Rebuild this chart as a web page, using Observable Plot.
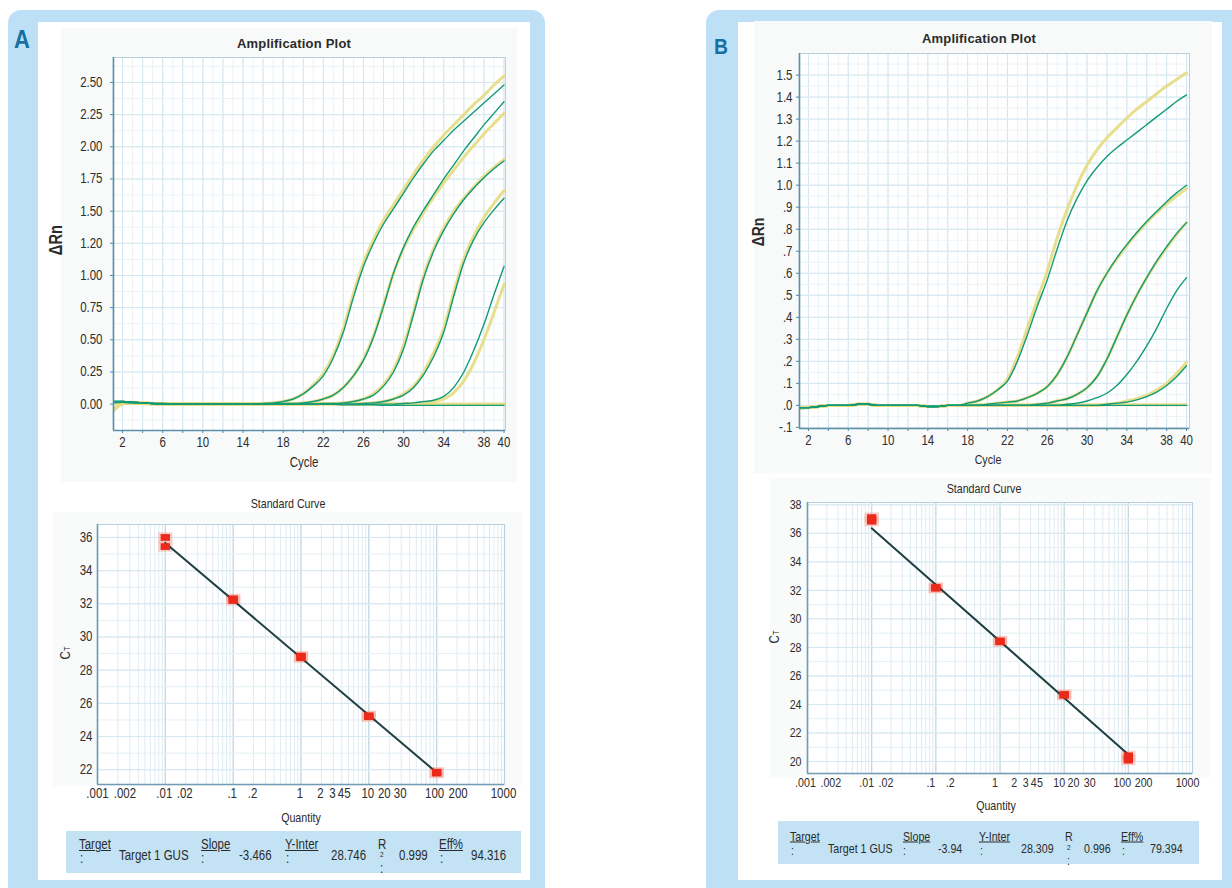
<!DOCTYPE html>
<html><head><meta charset="utf-8">
<script src="https://cdn.jsdelivr.net/npm/d3@7"></script>
<script src="https://cdn.jsdelivr.net/npm/@observablehq/plot@0.6"></script>
<style>
html,body{margin:0;padding:0;background:#fff;}
body{width:1232px;height:888px;position:relative;overflow:hidden;font-family:"Liberation Sans",Arial,sans-serif;color:#2b2b2b;}
.abs{position:absolute;white-space:nowrap;}
.layer{position:absolute;left:0;top:0;}
.layer svg{overflow:visible;}
</style></head><body>
<script>
// ---------------- DATA ----------------
const cycles = [1,2,3,4,5,6,7,8,9,10,11,12,13,14,15,16,17,18,19,20,21,22,23,24,25,26,27,28,29,30,31,32,33,34,35,36,37,38,39,40];

// Panel A amplification curves (ΔRn per cycle)
const a1Green  = [0.02,0.02,0.015,0.01,0.005,0.005,0,0,0,0, 0,0,0,0,0,0.005,0.01,0.02,0.04,0.08, 0.14,0.22,0.36,0.56,0.83,1.07,1.25,1.40,1.52,1.64, 1.76,1.87,1.97,2.05,2.13,2.20,2.27,2.34,2.41,2.48];
const a1Yellow = [-0.06,0,0.01,0.01,0.005,0.005,0,0,0,0, 0,0,0,0,0,0.005,0.01,0.02,0.04,0.08, 0.15,0.24,0.38,0.59,0.86,1.10,1.28,1.43,1.55,1.67, 1.79,1.90,2.00,2.09,2.17,2.25,2.33,2.40,2.48,2.55];
const a2Green  = [0.015,0.02,0.015,0.01,0.005,0.005,0,0,0,0, 0,0,0,0,0,0,0,0.005,0.005,0.01, 0.02,0.04,0.07,0.13,0.22,0.34,0.52,0.76,1.02,1.22, 1.38,1.51,1.63,1.75,1.86,1.97,2.07,2.17,2.26,2.35];
const a2Yellow = [0.01,0.015,0.015,0.01,0.005,0.005,0,0,0,0, 0,0,0,0,0,0,0,0.005,0.005,0.01, 0.02,0.04,0.07,0.13,0.22,0.35,0.53,0.77,1.02,1.21, 1.36,1.49,1.61,1.72,1.82,1.92,2.01,2.10,2.18,2.26];
const a3Green  = [0.01,0.015,0.01,0.01,0.005,0,0,0,0,0, 0,0,0,0,0,0,0,0,0,0, 0,0.005,0.005,0.01,0.02,0.04,0.07,0.14,0.25,0.43, 0.70,0.98,1.19,1.35,1.48,1.59,1.68,1.76,1.83,1.89];
const a3Yellow = [0.01,0.01,0.01,0.005,0.005,0,0,0,0,0, 0,0,0,0,0,0,0,0,0,0, 0,0.005,0.005,0.01,0.02,0.04,0.08,0.15,0.27,0.46, 0.72,1.00,1.21,1.37,1.50,1.60,1.69,1.77,1.84,1.90];
const a4Green  = [0.015,0.015,0.01,0.01,0.005,0,0,0,0,0, 0,0,0,0,0,0,0,0,0,0, 0,0,0,0,0,0.005,0.01,0.02,0.04,0.07, 0.13,0.23,0.37,0.56,0.84,1.10,1.28,1.41,1.51,1.60];
const a4Yellow = [0.01,0.01,0.01,0.005,0.005,0,0,0,0,0, 0,0,0,0,0,0,0,0,0,0, 0,0,0,0,0,0.005,0.01,0.02,0.04,0.08, 0.14,0.25,0.40,0.59,0.87,1.13,1.31,1.45,1.56,1.66];
const a5Green  = [0.02,0.02,0.015,0.01,0.005,0,0,0,0,0, 0,0,0,0,0,0,0,0,0,0, 0,0,0,0,0,0,0,0,0,0.005, 0.01,0.02,0.03,0.06,0.13,0.25,0.42,0.62,0.85,1.07];
const a5Yellow = [0.01,0.01,0.01,0.005,0,0,0,0,0,0, 0,0,0,0,0,0,0,0,0,0, 0,0,0,0,0,0,0,0,0,0, 0.005,0.01,0.02,0.04,0.09,0.18,0.32,0.50,0.71,0.93];
const aNtcGreen  = [0.02,0.02,0.015,0.01,0.005,0,0,0,0,0, 0,0,0,0,0,0,0,0,0,0, 0,0,0,-0.005,-0.005,-0.005,-0.005,-0.01,-0.01,-0.01, -0.01,-0.01,-0.01,-0.01,-0.01,-0.01,-0.01,-0.01,-0.01,-0.01];
const aNtcYellow = [-0.04,0.005,0.01,0.005,0,0,0,0,0,0, 0,0,0,0,0,0,0,0,0,0, 0,0,0,0,0,0,0,0,0,0, 0,0,0,0,0,0,0,0,0,0];

// Panel B amplification curves
const b1Green  = [-0.01,-0.01,-0.005,0,0,0,0.005,0.005,0,0, 0,0,0,-0.005,-0.005,0,0,0.01,0.02,0.04, 0.07,0.11,0.20,0.32,0.45,0.57,0.71,0.84,0.94,1.02, 1.08,1.13,1.17,1.205,1.24,1.275,1.31,1.345,1.38,1.41];
const b1Yellow = [-0.015,-0.01,-0.005,0,0,0,0.005,0.005,0,0, 0,0,0,-0.005,-0.005,0,0,0.01,0.02,0.04, 0.07,0.12,0.22,0.35,0.48,0.61,0.76,0.89,1.00,1.09, 1.16,1.215,1.26,1.305,1.345,1.38,1.415,1.45,1.48,1.51];
const b2Green  = [-0.01,-0.01,-0.005,0,0,0,0.005,0.005,0,0, 0,0,0,-0.005,-0.005,0,0,0,0,0.005, 0.01,0.015,0.02,0.035,0.055,0.085,0.14,0.22,0.32,0.42, 0.52,0.60,0.67,0.73,0.785,0.835,0.88,0.925,0.965,1.00];
const b2Yellow = [-0.01,-0.01,-0.005,0,0,0,0.005,0.005,0,0, 0,0,0,-0.005,-0.005,0,0,0,0,0.005, 0.01,0.015,0.02,0.035,0.055,0.085,0.14,0.22,0.32,0.42, 0.52,0.60,0.665,0.725,0.78,0.83,0.875,0.915,0.95,0.985];
const b3Green  = [-0.01,-0.01,-0.005,0,0,0,0.005,0.005,0,0, 0,0,0,-0.005,-0.005,0,0,0,0,0, 0,0,0,0,0.005,0.01,0.02,0.03,0.05,0.08, 0.13,0.21,0.31,0.41,0.50,0.58,0.655,0.72,0.78,0.83];
const b3Yellow = [-0.01,-0.01,-0.005,0,0,0,0.005,0.005,0,0, 0,0,0,-0.005,-0.005,0,0,0,0,0, 0,0,0,0,0.005,0.01,0.02,0.03,0.05,0.08, 0.13,0.21,0.31,0.41,0.50,0.58,0.65,0.715,0.775,0.83];
const b4Green  = [-0.01,-0.01,-0.005,0,0,0,0.005,0.005,0,0, 0,0,0,-0.005,-0.005,0,0,0,0,0, 0,0,0,0,0,0,0,0.005,0.01,0.02, 0.035,0.055,0.09,0.14,0.20,0.27,0.35,0.44,0.52,0.58];
const b5Green  = [-0.01,-0.01,-0.005,0,0,0,0.005,0.005,0,0, 0,0,0,-0.005,-0.005,0,0,0,0,0, 0,0,0,0,0,0,0,0,0,0, 0,0.005,0.01,0.015,0.025,0.04,0.06,0.09,0.13,0.18];
const b5Yellow = [-0.01,-0.01,-0.005,0,0,0,0.005,0.005,0,0, 0,0,0,-0.005,-0.005,0,0,0,0,0, 0,0,0,0,0,0,0,0,0,0, 0,0.005,0.01,0.02,0.03,0.045,0.07,0.10,0.145,0.195];
const bNtcGreen  = [-0.01,-0.01,-0.005,0,0,0,0.005,0.005,0,0, 0,0,0,-0.005,-0.005,0,0,0,0,0, 0,0,0,0,0,0,0,0,0,0, 0,0,0,0,0,0,0,0,0,0];
const bNtcYellow = [-0.015,-0.01,-0.005,0,0,0,0.005,0.005,0,0, 0,0,0,-0.005,-0.005,0,0,0,0.003,0.003, 0.003,0.003,0.003,0.003,0.003,0.003,0.003,0.003,0.003,0.003, 0.003,0.003,0.003,0.003,0.003,0.003,0.003,0.003,0.003,0.003];

// Amplification axis ticks
const ampXTicks = [2,4,6,8,10,12,14,16,18,20,22,24,26,28,30,32,34,36,38,40];
const ampXLabels = ["2","","6","","10","","14","","18","","22","","26","","30","","34","","38","40"];
const ampAYTicks  = [0,0.25,0.5,0.75,1,1.25,1.5,1.75,2,2.25,2.5];
const ampAYLabels = ["0.00","0.25","0.50","0.75","1.00","1.20","1.50","1.75","2.00","2.25","2.50"];
const ampBYTicks  = [-0.1,0,0.1,0.2,0.3,0.4,0.5,0.6,0.7,0.8,0.9,1,1.1,1.2,1.3,1.4,1.5];
const ampBYLabels = ["-.1",".0",".1",".2",".3",".4",".5",".6",".7",".8",".9","1.0","1.1","1.2","1.3","1.4","1.5"];

// Standard curves
const stdAQty = [0.01,0.01,0.1,0.1,1,1,10,10,100,100];
const stdACt  = [36.0,35.45,32.2,32.3,28.75,28.85,25.2,25.25,21.85,21.8];
const stdAFitQty = [0.01,100];
const stdAFitCt  = [35.67,21.83];
const stdBQty = [0.01,0.01,0.1,0.1,1,1,10,10,100,100];
const stdBCt  = [37.1,36.85,32.15,32.2,28.45,28.4,24.7,24.65,20.4,20.1];
const stdBFitQty = [0.01,100];
const stdBFitCt  = [36.35,20.5];
const stdXTicks  = [0.001,0.002,0.01,0.02,0.1,0.2,1,2,3,4,5,10,20,30,100,200,1000];
const stdXLabels = [".001",".002",".01",".02",".1",".2","1","2","3","4","5","10","20","30","100","200","1000"];
const stdAYTicks = [22,24,26,28,30,32,34,36];
const stdBYTicks = [20,22,24,26,28,30,32,34,36,38];

// Stats rows
const statsA = {target:"Target 1 GUS", slope:"-3.466", yinter:"28.746", r2:"0.999", eff:"94.316"};
const statsB = {target:"Target 1 GUS", slope:"-3.94", yinter:"28.309", r2:"0.996", eff:"79.394"};

// ---------------- DRAWING ----------------
const W = 1232, H = 888;
const FONT = '"Liberation Sans",Arial,sans-serif';
const K = 0.82; // horizontal condensation to mimic a narrow face
const GREEN = "#139a77", YELLOW = "#e6dc80";

function box(left, top, w, h, bg, radius){
  const d = document.createElement("div");
  d.className = "abs";
  Object.assign(d.style, {left:left+"px", top:top+"px", width:w+"px", height:h+"px", background:bg, borderRadius: radius||"0"});
  document.body.appendChild(d);
  return d;
}
function txt(s, x, y, o={}){
  const d = document.createElement("div");
  d.className = "abs";
  d.textContent = s;
  const start = o.anchor === "start";
  const k = o.k === undefined ? K : o.k;
  Object.assign(d.style, {left:x+"px", top:y+"px", fontSize:(o.size||13)+"px", lineHeight:"1",
    fontFamily:FONT, fontWeight:o.weight||"normal", color:o.color||"#2b2b2b",
    transformOrigin: start ? "0 50%" : "50% 50%",
    transform:`translate(${start ? "0" : "-50%"},-50%)` + (o.rotate ? ` rotate(${o.rotate}deg)` : "") + ` scaleX(${k})`,
    textDecoration:o.underline ? "underline" : "none", letterSpacing:o.ls||"normal", zIndex:5});
  document.body.appendChild(d);
  return d;
}
function layer(node){
  const d = document.createElement("div");
  d.className = "layer";
  d.appendChild(node);
  document.body.appendChild(d);
  node.querySelectorAll("text").forEach(t => {
    const L = t.getComputedTextLength();
    if (L > 0) { t.setAttribute("textLength", (L*K).toFixed(2)); t.setAttribute("lengthAdjust", "spacingAndGlyphs"); }
  });
}

function ampTable(list){
  return list.flatMap(([id, kind, vals]) => vals.map((v,i) => ({id, kind, cycle: cycles[i], value: v})));
}

function ampPlot(o){
  const yMap = new Map(o.yTicks.map((t,i)=>[t,o.yLabels[i]]));
  const xMap = new Map(ampXTicks.map((t,i)=>[t,ampXLabels[i]]));
  const [l,t,r,b] = o.frame;
  return Plot.plot({
    width:W, height:H, marginLeft:l, marginTop:t, marginRight:W-r, marginBottom:H-b,
    style:{background:"transparent", fontFamily:FONT, fontSize:o.fontSize+"px", color:"#2e2e2e", overflow:"visible"},
    x:{domain:o.xDomain},
    y:{domain:o.yDomain},
    marks:[
      Plot.frame({fill:"#ffffff"}),
      Plot.ruleX(d3.range(1,41,1), {stroke:"#ebf3f7", strokeWidth:1}),
      Plot.ruleX(ampXTicks, {stroke:"#d3e6f0", strokeWidth:1}),
      Plot.ruleY(o.gridMinor, {stroke:"#ebf3f7", strokeWidth:1}),
      Plot.ruleY(o.yTicks, {stroke:"#d3e6f0", strokeWidth:1}),
      Plot.axisX(ampXTicks, {tickSize:3, tickPadding:4, stroke:"#4f87a3", tickFormat:d=>xMap.get(d), label:null}),
      Plot.axisY(o.yTicks, {tickSize:3, tickPadding:o.yPad, stroke:"#4f87a3", tickFormat:d=>yMap.get(d), label:null}),
      Plot.line(o.data.filter(d=>d.kind==="y"), {x:"cycle", y:"value", z:"id", stroke:YELLOW, strokeWidth:3, strokeOpacity:0.9, curve:"monotone-x", clip:true}),
      Plot.line(o.data.filter(d=>d.kind==="g"), {x:"cycle", y:"value", z:"id", stroke:GREEN, strokeWidth:1.4, curve:"monotone-x", clip:true}),
      Plot.frame({stroke:"#b9d0dd"}),
      Plot.ruleX([o.xDomain[0]], {stroke:"#5c8fa9", strokeWidth:1.6}),
      Plot.ruleY([o.yDomain[0]], {stroke:"#5c8fa9", strokeWidth:1.6})
    ]
  });
}

const wideSquare = { draw(ctx, size){ const w = Math.sqrt(size)/2*1.15, h = w*0.72; ctx.moveTo(-w,-h); ctx.lineTo(w,-h); ctx.lineTo(w,h); ctx.lineTo(-w,h); ctx.closePath(); } };

function stdPlot(o){
  const [l,t,r,b] = o.frame;
  const minorX = d3.range(-3,3).flatMap(e => d3.range(1,10).map(k => k*Math.pow(10,e)));
  const decades = [0.001,0.01,0.1,1,10,100,1000];
  const pts = o.qty.map((q,i)=>({q, ct:o.ct[i]}));
  const fit = o.fitQty.map((q,i)=>({q, ct:o.fitCt[i]}));
  const xt = stdXTicks.map((q,i)=>({q, label:stdXLabels[i]}));
  const labelMarks = xt.map(d => Plot.text([d], {x:"q", text:"label", frameAnchor:"bottom", dy:o.xDy,
    dx:o.xDx + (o.nudge[d.label] || 0), fill:"#2e2e2e"}));
  return Plot.plot({
    width:W, height:H, marginLeft:l, marginTop:t, marginRight:W-r, marginBottom:H-b,
    style:{background:"transparent", fontFamily:FONT, fontSize:o.fontSize+"px", color:"#2e2e2e", overflow:"visible"},
    x:{type:"log", domain:[0.001,1000], axis:null},
    y:{domain:o.yDomain},
    marks:[
      Plot.frame({fill:"#ffffff"}),
      Plot.ruleX(minorX, {stroke:"#deebf2", strokeWidth:1}),
      Plot.ruleX(decades, {stroke:"#c5d7e1", strokeWidth:1.2}),
      Plot.ruleY(d3.range(Math.ceil(o.yDomain[0]), o.yDomain[1], 1), {stroke:"#e4eff5", strokeWidth:1}),
      Plot.ruleY(o.yTicks, {stroke:"#d6e7f0", strokeWidth:1}),
      ...labelMarks,
      Plot.axisY(o.yTicks, {tickSize:0, tickPadding:o.yPad, label:null}),
      Plot.frame({stroke:"#b9d0dd"}),
      Plot.ruleX([0.001], {stroke:"#6f9cb3", strokeWidth:1.6}),
      Plot.ruleY([o.yDomain[0]], {stroke:"#6f9cb3", strokeWidth:1.6}),
      Plot.dot(pts, {x:"q", y:"ct", symbol:wideSquare, r:7, fill:"#f6a99a", fillOpacity:0.55}),
      Plot.line(fit, {x:"q", y:"ct", stroke:"#1e3f42", strokeWidth:2}),
      Plot.dot(pts, {x:"q", y:"ct", symbol:wideSquare, r:4.6, fill:"#ec2a1c"})
    ]
  });
}

// ---- Panel backgrounds
box(8, 10, 537, 900, "#bee0f6", "13px");
box(38, 22, 492, 858, "#ffffff");
box(706, 10, 560, 900, "#bee0f6", "13px");
box(738, 22, 484, 858, "#ffffff");
box(61, 28, 456, 454, "#f8f9f9");
box(53, 512, 469, 274, "#f9fafa");
box(754, 21, 458, 452, "#f8f9f9");
box(770, 478, 440, 300, "#f9fafa");

// ---- Panel letters
txt("A", 22, 39, {size:25, weight:"bold", color:"#1670a4", k:0.88});
txt("B", 721, 47, {size:22, weight:"bold", color:"#1670a4", k:0.88});

// ---- Plots
const ampAData = ampTable([
  ["a1y","y",a1Yellow],["a2y","y",a2Yellow],["a3y","y",a3Yellow],["a4y","y",a4Yellow],["a5y","y",a5Yellow],["any","y",aNtcYellow],
  ["a1g","g",a1Green],["a2g","g",a2Green],["a3g","g",a3Green],["a4g","g",a4Green],["a5g","g",a5Green],["ang","g",aNtcGreen]
]);
const ampBData = ampTable([
  ["b1y","y",b1Yellow],["b2y","y",b2Yellow],["b3y","y",b3Yellow],["b5y","y",b5Yellow],["bny","y",bNtcYellow],
  ["b1g","g",b1Green],["b2g","g",b2Green],["b3g","g",b3Green],["b4g","g",b4Green],["b5g","g",b5Green],["bng","g",bNtcGreen]
]);

layer(ampPlot({frame:[113,57,505,430], xDomain:[1.1,40.15], yDomain:[-0.205,2.694], yTicks:ampAYTicks, yLabels:ampAYLabels,
  gridMinor:d3.range(-0.125,2.7,0.125), fontSize:14, yPad:8, data:ampAData}));
layer(ampPlot({frame:[799,53,1189,428], xDomain:[1.1,40.3], yDomain:[-0.105,1.598], yTicks:ampBYTicks, yLabels:ampBYLabels,
  gridMinor:d3.range(-0.05,1.6,0.05), fontSize:14, yPad:4, data:ampBData}));
layer(stdPlot({frame:[97,524,504,784], yDomain:[21.11,36.78], yTicks:stdAYTicks, qty:stdAQty, ct:stdACt, fitQty:stdAFitQty, fitCt:stdAFitCt,
  fontSize:14, xDy:13, xDx:-1, nudge:{".001":1, ".002":8, "20":-4, "100":-1, "200":2}, yPad:5}));
layer(stdPlot({frame:[807,502,1192,773], yDomain:[19.16,38.16], yTicks:stdBYTicks, qty:stdBQty, ct:stdBCt, fitQty:stdBFitQty, fitCt:stdBFitCt,
  fontSize:13, xDy:13, xDx:-5, nudge:{".001":3, ".002":9, "20":-5, "100":-1, "200":1}, yPad:6}));

// ---- Titles & axis labels
txt("Amplification Plot", 294, 43, {size:13, weight:"bold", k:1, ls:"0.2px"});
txt("Amplification Plot", 979, 38, {size:13, weight:"bold", k:1, ls:"0.2px"});
txt("Cycle", 304, 462, {size:14});
txt("Cycle", 988, 459, {size:13});
txt("ΔRn", 56, 240, {size:18, weight:"bold", rotate:-90});
txt("ΔRn", 758, 232, {size:17, weight:"bold", rotate:-90});
txt("Standard Curve", 288, 503, {size:13});
txt("Standard Curve", 984, 488, {size:13});
txt("Quantity", 301, 817, {size:13});
txt("Quantity", 996, 805, {size:13});
function ctLabel(x, y){
  const d = txt("C", x, y, {size:14, rotate:-90});
  const s = document.createElement("span"); s.textContent = "T"; s.style.fontSize = "9px";
  d.appendChild(s);
}
ctLabel(65, 653);
ctLabel(774, 637);

// ---- Stats rows
function stats(s, o){
  box(o.left, o.top, o.w, o.h, "#c3e3f5");
  const hy = o.hy, vy = o.vy, cy = o.cy, sz = o.size;
  const put = (t, x, y, extra={}) => txt(t, x, y, Object.assign({size:sz, anchor:"start"}, extra));
  put("Target", o.x[0], hy, {underline:true}); put(":", o.x[0]+1, cy);
  put(s.target, o.x[1], vy);
  put("Slope", o.x[2], hy, {underline:true}); put(":", o.x[2], cy);
  put(s.slope, o.x[3], vy);
  put("Y-Inter", o.x[4], hy, {underline:true}); put(":", o.x[4]+1, cy);
  put(s.yinter, o.x[5], vy);
  put("R", o.x[6], hy); put("2", o.x[6]+2, vy, {size:8}); put(":", o.x[6]+2, o.ry);
  put(s.r2, o.x[7], vy);
  put("Eff%", o.x[8], hy, {underline:true}); put(":", o.x[8]+1, cy);
  put(s.eff, o.x[9], vy);
}
stats(statsA, {left:66, top:831, w:455, h:42, hy:844, vy:855, cy:858, ry:868, size:14,
  x:[79,119,201,239,285,331,378,399,439,471]});
stats(statsB, {left:778, top:821, w:421, h:43, hy:836, vy:848, cy:850, ry:860, size:13,
  x:[790,828,903,938,979,1021,1065,1084,1121,1150]});
</script>
</body></html>
